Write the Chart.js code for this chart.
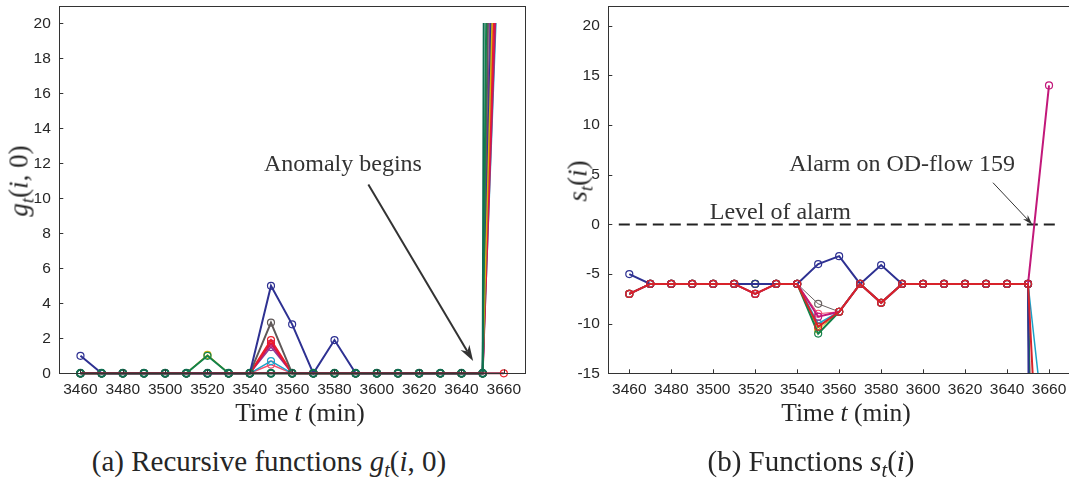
<!DOCTYPE html>
<html>
<head>
<meta charset="utf-8">
<script src="https://cdn.jsdelivr.net/npm/chart.js@4"></script>
<style>
  body { margin: 0; width: 1069px; height: 480px; overflow: hidden; background: #fff; position: relative; }
  .box { position: absolute; top: 0; width: 540px; height: 400px; }
  .lbl { position: absolute; font-family: "Liberation Serif", "DejaVu Serif", serif; color: #262626;
         white-space: nowrap; transform: translate(-50%, -50%); line-height: 1; }
  .rot { transform: translate(-50%, -50%) rotate(-90deg); }
  sub { font-size: 0.7em; vertical-align: -0.3em; line-height: 0; }
</style>
</head>
<body>
<div class="box" style="left:0"><canvas id="chartG" width="540" height="400"></canvas></div>
<div class="box" style="left:540px"><canvas id="chartS" width="540" height="400"></canvas></div>

<div class="lbl rot" style="left:19px;top:181px;font-size:27px"><i>g</i><sub><i>t</i></sub>(<i>i</i>, 0)</div>
<div class="lbl rot" style="left:578px;top:181px;font-size:27px"><i>s</i><sub><i>t</i></sub>(<i>i</i>)</div>
<div class="lbl" style="left:300px;top:413px;font-size:25.5px">Time <i>t</i> (min)</div>
<div class="lbl" style="left:846px;top:413px;font-size:25.5px">Time <i>t</i> (min)</div>
<div class="lbl" style="left:269px;top:461px;font-size:29px">(a) Recursive functions <i>g</i><sub><i>t</i></sub>(<i>i</i>, 0)</div>
<div class="lbl" style="left:811px;top:461px;font-size:29px">(b) Functions <i>s</i><sub><i>t</i></sub>(<i>i</i>)</div>

<script>
// time axis (minutes)
const times = [3460, 3470, 3480, 3490, 3500, 3510, 3520, 3530, 3540, 3550, 3560,
               3570, 3580, 3590, 3600, 3610, 3620, 3630, 3640, 3650, 3660];
const xTicks = [3460, 3480, 3500, 3520, 3540, 3560, 3580, 3600, 3620, 3640, 3660];
const gTicks = [0, 2, 4, 6, 8, 10, 12, 14, 16, 18, 20];
const sTicks = [-15, -10, -5, 0, 5, 10, 15, 20];

// (a) recursive functions g_t(i,0), one array per OD-flow
const gMaroon  = [0, 0, 0, 0, 0, 0, 0, 0, 0, 0, 0, 0, 0, 0, 0, 0, 0, 0, 0, 0, 0];
const gTeal    = [0, 0, 0, 0, 0, 0, 0, 0, 0, 0, 0, 0, 0, 0, 0, 0, 0, 0, 0, 0, 400];
const gGreen   = [0, 0, 0, 0, 0, 0, 1, 0, 0, 0, 0, 0, 0, 0, 0, 0, 0, 0, 0, 0, 120];
const gYellow  = [0, 0, 0, 0, 0, 0, 1.05, 0, 0, 0, 0, 0, 0, 0, 0, 0, 0, 0, 0, 0, 45];
const gBlue    = [1, 0, 0, 0, 0, 0, 0, 0, 0, 5, 2.8, 0, 1.9, 0, 0, 0, 0, 0, 0, 0, 50];
const gGray    = [0, 0, 0, 0, 0, 0, 0, 0, 0, 2.9, 0, 0, 0, 0, 0, 0, 0, 0, 0, 0, 80];
const gRed     = [0, 0, 0, 0, 0, 0, 0, 0, 0, 1.9, 0, 0, 0, 0, 0, 0, 0, 0, 0, 0, 40];
const gCrimson = [0, 0, 0, 0, 0, 0, 0, 0, 0, 1.7, 0, 0, 0, 0, 0, 0, 0, 0, 0, 0, 34];
const gPurple  = [0, 0, 0, 0, 0, 0, 0, 0, 0, 1.5, 0, 0, 0, 0, 0, 0, 0, 0, 0, 0, 60];
const gCyan    = [0, 0, 0, 0, 0, 0, 0, 0, 0, 0.7, 0, 0, 0, 0, 0, 0, 0, 0, 0, 0, 32];
const gSalmon  = [0, 0, 0, 0, 0, 0, 0, 0, 0, 0.5, 0, 0, 0, 0, 0, 0, 0, 0, 0, 0, 36];

// (b) functions s_t(i)
const sRed     = [-7, -6, -6, -6, -6, -6, -7, -6, -6, -10.3, -8.8, -6, -7.9, -6, -6, -6, -6, -6, -6, -6, -47];
const sBlue    = [-5, -6, -6, -6, -6, -6, -6, -6, -6, -4, -3.2, -6, -4.1, -6, -6, -6, -6, -6, -6, -6, -400];
const sMagenta = [-7, -6, -6, -6, -6, -6, -7, -6, -6, -9.3, -8.8, -6, -7.9, -6, -6, -6, -6, -6, -6, -6, 14];
const sGreen   = [-7, -6, -6, -6, -6, -6, -6, -6, -6, -11, -8.8, -6, -7.9, -6, -6, -6, -6, -6, -6, -6, -150];
const sYellow  = [-7, -6, -6, -6, -6, -6, -6, -6, -6, -10.6, -8.8, -6, -7.9, -6, -6, -6, -6, -6, -6, -6, -300];
const sGray    = [-7, -6, -6, -6, -6, -6, -7, -6, -6, -8, -8.8, -6, -7.9, -6, -6, -6, -6, -6, -6, -6, -250];
const sSalmon  = [-7, -6, -6, -6, -6, -6, -7, -6, -6, -9, -8.8, -6, -7.9, -6, -6, -6, -6, -6, -6, -6, -100];
const sCyan    = [-7, -6, -6, -6, -6, -6, -7, -6, -6, -10, -8.8, -6, -7.9, -6, -6, -6, -6, -6, -6, -6, -25];
const alarmLevel = 0;

const INK = '#262626';
const tickFont = { family: '"Liberation Sans", Arial, sans-serif', size: 15.5 };

function series(data, color, width, extra) {
    return Object.assign({
        data: data,
        borderColor: color,
        borderWidth: width,
        pointRadius: 3.5,
        pointBorderWidth: 1.2,
        pointBorderColor: color,
        pointBackgroundColor: 'rgba(0,0,0,0)',
        tension: 0
    }, extra || {});
}

// box round the plot area with inward tick marks
const frame = {
    id: 'frame',
    afterDraw(chart) {
        const { ctx, chartArea: a, scales } = chart;
        ctx.save();
        ctx.strokeStyle = '#333';
        ctx.lineWidth = 1;
        ctx.strokeRect(Math.round(a.left) + 0.5, Math.round(a.top) + 0.5,
                       Math.round(a.right - a.left), Math.round(a.bottom - a.top));
        ctx.beginPath();
        scales.x.ticks.forEach(t => {
            const px = Math.round(scales.x.getPixelForValue(t.value)) + 0.5;
            ctx.moveTo(px, a.bottom); ctx.lineTo(px, a.bottom - 4);
        });
        scales.y.ticks.forEach(t => {
            const py = Math.round(scales.y.getPixelForValue(t.value)) + 0.5;
            ctx.moveTo(a.left, py); ctx.lineTo(a.left + 4, py);
        });
        ctx.stroke();
        ctx.restore();
    }
};

// text labels and arrows, placed in data coordinates
const notes = {
    id: 'notes',
    afterDraw(chart, args, opts) {
        const { ctx, scales: { x, y } } = chart;
        ctx.save();
        ctx.fillStyle = '#333';
        ctx.font = '24px "Liberation Serif", "DejaVu Serif", serif';
        ctx.textAlign = 'center';
        ctx.textBaseline = 'middle';
        (opts.texts || []).forEach(n => ctx.fillText(n.text, x.getPixelForValue(n.x), y.getPixelForValue(n.y)));
        (opts.arrows || []).forEach(ar => {
            const x1 = x.getPixelForValue(ar.x1), y1 = y.getPixelForValue(ar.y1);
            const x2 = x.getPixelForValue(ar.x2), y2 = y.getPixelForValue(ar.y2);
            const ang = Math.atan2(y2 - y1, x2 - x1);
            const hl = ar.head, hw = ar.head * 0.32;
            ctx.strokeStyle = '#333';
            ctx.lineWidth = ar.width;
            ctx.beginPath();
            ctx.moveTo(x1, y1);
            ctx.lineTo(x2 - Math.cos(ang) * hl * 0.7, y2 - Math.sin(ang) * hl * 0.7);
            ctx.stroke();
            ctx.beginPath();
            ctx.moveTo(x2, y2);
            ctx.lineTo(x2 - Math.cos(ang) * hl - Math.sin(ang) * hw, y2 - Math.sin(ang) * hl + Math.cos(ang) * hw);
            ctx.lineTo(x2 - Math.cos(ang) * hl * 0.7, y2 - Math.sin(ang) * hl * 0.7);
            ctx.lineTo(x2 - Math.cos(ang) * hl + Math.sin(ang) * hw, y2 - Math.sin(ang) * hl - Math.cos(ang) * hw);
            ctx.closePath();
            ctx.fillStyle = '#333';
            ctx.fill();
        });
        ctx.restore();
    }
};

function axes(yMin, yMax, yTicks, yWidth) {
    return {
        x: {
            type: 'linear', min: 3450, max: 3670,
            grid: { display: false, drawTicks: false }, border: { display: false },
            afterBuildTicks: s => { s.ticks = xTicks.map(v => ({ value: v })); },
            afterFit: s => { s.height = 26.7; s.paddingLeft = 0; s.paddingRight = 0; },
            ticks: { font: tickFont, color: INK, padding: 7, maxRotation: 0, autoSkip: false, callback: v => String(v) }
        },
        y: {
            min: yMin, max: yMax,
            grid: { display: false, drawTicks: false }, border: { display: false },
            afterBuildTicks: s => { s.ticks = yTicks.map(v => ({ value: v })); },
            afterFit: s => { s.width = yWidth; s.paddingTop = 0; s.paddingBottom = 0; },
            ticks: { font: tickFont, color: INK, padding: 8.5, callback: v => String(v) }
        }
    };
}

// (a) g_t(i,0): spike is cut at the 20 level
const clipG = { left: 10, top: -17, right: 10, bottom: 10 };
const last = times.length - 1;
new Chart(document.getElementById('chartG'), {
    type: 'line',
    data: {
        labels: times,
        datasets: [
            series(gMaroon, '#8e1b3a', 2, { pointRadius: c => c.dataIndex === last ? 3.5 : 0, pointBorderColor: '#e8242b' }),
            series(gTeal, '#0f6e52', 2, { pointBorderWidth: 2 }),
            series(gGreen, '#13824a', 2),
            series(gYellow, '#d9b310', 1.5),
            series(gBlue, '#2e3192', 2),
            series(gGray, '#5f5858', 2),
            series(gRed, '#ec1c2a', 2),
            series(gCrimson, '#c8175d', 2),
            series(gPurple, '#8a3d9c', 1.5),
            series(gCyan, '#1ca3c9', 1.5),
            series(gSalmon, '#f0506e', 1.5)
        ].map(d => Object.assign(d, { clip: clipG }))
    },
    options: {
        responsive: false,
        animation: false,
        events: [],
        layout: { padding: { left: 0, top: 6, right: 15, bottom: 0 } },
        scales: axes(0, 21, gTicks, 59.3),
        plugins: {
            legend: { display: false },
            tooltip: { enabled: false },
            notes: {
                texts: [{ text: 'Anomaly begins', x: 3584, y: 11.9 }],
                arrows: [{ x1: 3596, y1: 10.8, x2: 3645.5, y2: 0.7, width: 2, head: 16 }]
            }
        }
    },
    plugins: [frame, notes]
});

// (b) s_t(i)
const clipS = { left: 10, top: 10, right: 10, bottom: 0 };
new Chart(document.getElementById('chartS'), {
    type: 'line',
    data: {
        labels: times,
        datasets: [
            series(sRed, '#d8232a', 2),
            series(sBlue, '#2e3192', 2),
            series(sMagenta, '#c2187a', 2),
            series(sGreen, '#13824a', 2),
            series(sYellow, '#d9b310', 1),
            series(sGray, '#6a6262', 1),
            series(sSalmon, '#f0506e', 1),
            series(sCyan, '#1ca3c9', 1.5),
            {
                data: [{ x: 3455, y: alarmLevel }, { x: 3665, y: alarmLevel }],
                borderColor: '#222', borderWidth: 2, borderDash: [11, 6], pointRadius: 0
            }
        ].map(d => Object.assign(d, { clip: clipS }))
    },
    options: {
        responsive: false,
        animation: false,
        events: [],
        layout: { padding: { left: 0, top: 6, right: 10, bottom: 0 } },
        scales: axes(-15, 22, sTicks, 68.3),
        plugins: {
            legend: { display: false },
            tooltip: { enabled: false },
            notes: {
                texts: [
                    { text: 'Level of alarm', x: 3532, y: 1.2 },
                    { text: 'Alarm on OD-flow 159', x: 3590, y: 6.0 }
                ],
                arrows: [{ x1: 3633.3, y1: 4.2, x2: 3652, y2: 0, width: 1, head: 10 }]
            }
        }
    },
    plugins: [frame, notes]
});
</script>
</body>
</html>
